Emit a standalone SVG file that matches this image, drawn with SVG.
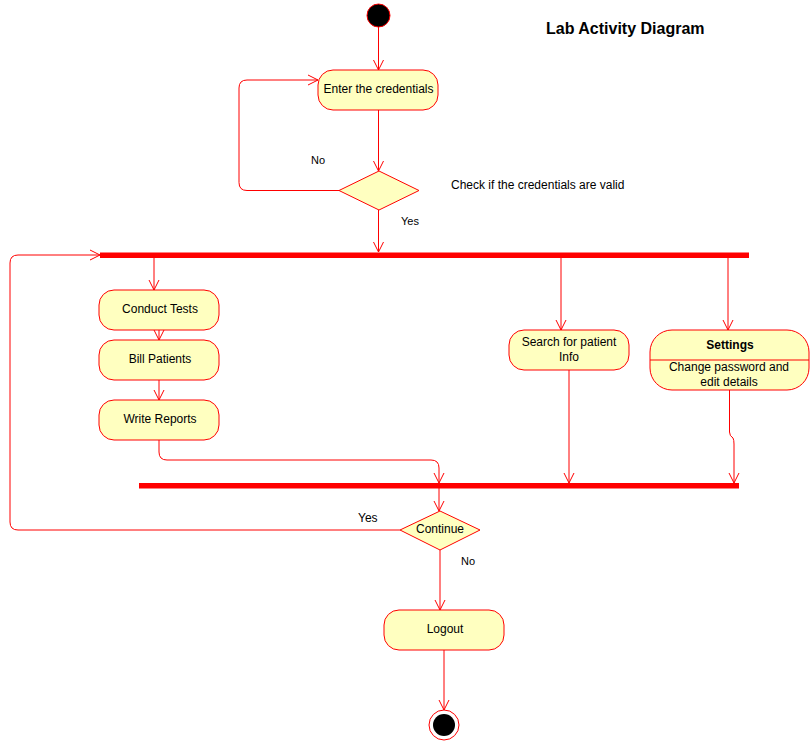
<svg xmlns="http://www.w3.org/2000/svg" width="810" height="741" viewBox="0 0 810 741">
<style>
text{font-family:"Liberation Sans",Arial,sans-serif;font-size:12px;fill:#000;}
.c{text-anchor:middle;}
.node{fill:#ffffc0;stroke:#ff0000;stroke-width:1;}
.bar{fill:#ff0000;}
.edge{fill:none;stroke:#ff0000;stroke-width:1;}
</style>
<defs>
<marker id="ah" markerUnits="userSpaceOnUse" markerWidth="14" markerHeight="14" refX="11" refY="7" orient="auto">
<path d="M1,2 L11,7 L1,12" fill="none" stroke="#ff0000" stroke-width="1"/>
</marker>
</defs>
<rect width="810" height="741" fill="#fff"/>
<text x="546" y="34" style="font-size:16px;font-weight:bold">Lab Activity Diagram</text>
<g id="connectors">
<path class="edge" d="M378.5,27 V70" marker-end="url(#ah)"/>
<path class="edge" d="M378.5,110 V171" marker-end="url(#ah)"/>
<path class="edge" d="M339,190.5 H247 Q239,190.5 239,182.5 V88 Q239,80 247,80 H318" marker-end="url(#ah)"/>
<path class="edge" d="M378.5,210 V252" marker-end="url(#ah)"/>
<path class="edge" d="M154,258 V290" marker-end="url(#ah)"/>
<path class="edge" d="M159,330 V340" marker-end="url(#ah)"/>
<path class="edge" d="M159,380 V400" marker-end="url(#ah)"/>
<path class="edge" d="M159,440 V452 Q159,460 167,460 H431 Q439,460 439,468 V483" marker-end="url(#ah)"/>
<path class="edge" d="M561,258 V330" marker-end="url(#ah)"/>
<path class="edge" d="M569,370 V483" marker-end="url(#ah)"/>
<path class="edge" d="M728,258 V330" marker-end="url(#ah)"/>
<path class="edge" d="M729.5,390 V432 Q729.5,436 733,438 Q734,440 734,444 V483" marker-end="url(#ah)"/>
<path class="edge" d="M439,488 V511" marker-end="url(#ah)"/>
<path class="edge" d="M400,530 H18 Q10,530 10,522 V263 Q10,255 18,255 H100" marker-end="url(#ah)"/>
<path class="edge" d="M440,550 V610" marker-end="url(#ah)"/>
<path class="edge" d="M444,650 V710" marker-end="url(#ah)"/>
</g>
<g id="start"><circle cx="378.5" cy="15.5" r="11.5" fill="#000" stroke="#ff0000" stroke-width="1"/></g>
<g id="enter">
<rect class="node" x="318" y="70" width="120" height="40" rx="15"/>
<text class="c" x="378.5" y="93">Enter the credentials</text>
</g>
<g id="check">
<polygon class="node" points="379,171 419,190.5 379,210 339,190.5"/>
</g>
<text x="451" y="189">Check if the credentials are valid</text>
<text x="311" y="164" style="font-size:11px">No</text>
<text x="401" y="225" style="font-size:11px">Yes</text>
<g id="fork"><rect class="bar" x="100" y="252.5" width="649" height="5.5"/></g>
<g id="conduct">
<rect class="node" x="99" y="290" width="120" height="40" rx="15"/>
<text class="c" x="160" y="313">Conduct Tests</text>
</g>
<g id="bill">
<rect class="node" x="99" y="340" width="120" height="40" rx="15"/>
<text class="c" x="160" y="363">Bill Patients</text>
</g>
<g id="write">
<rect class="node" x="99" y="400" width="120" height="40" rx="15"/>
<text class="c" x="160" y="423">Write Reports</text>
</g>
<g id="search">
<rect class="node" x="509" y="330" width="120" height="40" rx="15"/>
<text class="c" x="569" y="346">Search for patient</text>
<text class="c" x="569" y="361">Info</text>
</g>
<g id="settings">
<rect class="node" x="650" y="330" width="159" height="60" rx="22"/>
<line x1="650" y1="360" x2="809" y2="360" stroke="#ff0000" stroke-width="1"/>
<text class="c" x="730" y="349" style="font-weight:bold">Settings</text>
<text class="c" x="729" y="371">Change password and</text>
<text class="c" x="729" y="386">edit details</text>
</g>
<g id="join"><rect class="bar" x="139" y="483" width="600" height="5.5"/></g>
<g id="continue">
<polygon class="node" points="440,511 480,530 440,550 400,530"/>
<text class="c" x="440" y="533">Continue</text>
</g>
<text x="358" y="522">Yes</text>
<text x="461" y="565" style="font-size:11px">No</text>
<g id="logout">
<rect class="node" x="384" y="610" width="120" height="40" rx="15"/>
<text class="c" x="445" y="633">Logout</text>
</g>
<g id="end">
<circle cx="444" cy="725" r="15" fill="#fff" stroke="#ff0000" stroke-width="1"/>
<circle cx="444" cy="725" r="11" fill="#000"/>
</g>
</svg>
